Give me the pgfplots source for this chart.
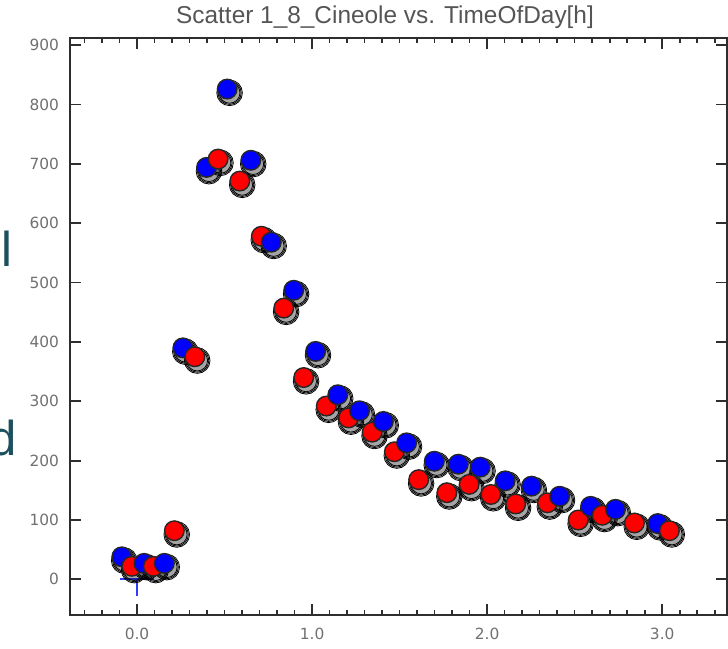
\documentclass[border=0pt]{standalone}
\usepackage{fontspec}
\setmainfont{Liberation Sans}
\newfontfamily\dejavu{DejaVu Sans}
\usepackage{pgfplots}
\pgfplotsset{compat=1.18}
\usepackage{pgfplotstable}
\definecolor{TitleGray}{HTML}{555555}
\definecolor{TickGray}{HTML}{707070}
\definecolor{AxisGray}{HTML}{2E2E2E}
\definecolor{Teal}{HTML}{1D4F5E}
\definecolor{PtBlue}{HTML}{0000FF}
\definecolor{PtRed}{HTML}{FF0000}
\definecolor{TBlue}{HTML}{2F3CFF}

% time [h], cineole, series (b = blue, r = red), in time order
\pgfplotstableread{
x y c
-0.087 38 b
-0.030 22 r
0.040 27 b
0.093 22 r
0.156 27 b
0.213 82 r
0.262 390 b
0.330 375 r
0.397 694 b
0.463 708 r
0.515 826 b
0.587 671 r
0.650 706 b
0.710 578 r
0.767 568 b
0.838 457 r
0.895 487 b
0.952 340 r
1.020 384 b
1.081 292 r
1.147 311 b
1.208 272 r
1.271 284 b
1.343 248 r
1.407 266 b
1.470 215 r
1.540 230 b
1.609 168 r
1.698 199 b
1.770 146 r
1.835 194 b
1.897 160 r
1.960 189 b
2.021 143 r
2.103 166 b
2.163 127 r
2.253 157 b
2.344 129 r
2.414 140 b
2.520 100 r
2.591 123 b
2.657 108 r
2.733 118 b
2.841 95 r
2.974 94 b
3.041 82 r
}\points

\begin{document}
\begin{tikzpicture}
\begin{axis}[
  at={(0,0)},anchor=south west,scale only axis,
  width=328.5pt,height=288.5pt,
  xmin=-0.383,xmax=3.37,ymin=-60,ymax=912,
  xtick={0,1,2,3},xticklabels={0.0,1.0,2.0,3.0},
  minor xtick={-0.3,-0.2,...,3.35},
  ytick={0,100,200,300,400,500,600,700,800,900},
  yticklabels={0,100,200,300,400,500,600,700,800,900},
  tick align=inside,major tick length=5.5pt,minor tick length=2.5pt,
  axis line style={AxisGray,line width=1pt},
  every tick/.append style={AxisGray,line width=0.9pt},
  every minor tick/.append style={AxisGray,line width=0.8pt},
  tick label style={font=\dejavu\fontsize{7.7}{8}\selectfont,text=TickGray,inner sep=0pt},
  yticklabel style={anchor=east,xshift=-5.3pt},
  xticklabel style={anchor=north,yshift=-6.5pt},
  clip=false]
% soft drop shadows
\addplot[only marks,mark=*,mark size=6.4pt,
  mark options={draw=none,fill=black,fill opacity=0.07,xshift=1.2pt,yshift=-1.9pt}]
  table[x=x,y=y]{\points};
\addplot[only marks,mark=*,mark size=5.8pt,
  mark options={draw=none,fill=black,fill opacity=0.13,xshift=1.2pt,yshift=-1.9pt}]
  table[x=x,y=y]{\points};
\addplot[only marks,mark=*,mark size=5.2pt,
  mark options={draw=none,fill=black,fill opacity=0.2,xshift=1.2pt,yshift=-1.9pt}]
  table[x=x,y=y]{\points};
% points
\addplot[scatter,only marks,mark=*,mark size=4.9pt,
  scatter src=explicit symbolic,
  scatter/classes={
    b={mark=*,fill=PtBlue,draw=black!85,line width=0.7pt},
    r={mark=*,fill=PtRed,draw=black!85,line width=0.7pt}}]
  table[x=x,y=y,meta=c]{\points};
% blue marker at the origin
\addplot[TBlue,line width=0.9pt] coordinates {(-0.098,0) (0.096,0)};
\addplot[TBlue,line width=0.9pt] coordinates {(0,0) (0,-28)};
\end{axis}
\node[anchor=base,font=\fontsize{12.2}{14}\selectfont,text=TitleGray]
  at (157.5pt,295.5pt) {Scatter 1\_8\_Cineole vs. TimeOfDay[h]};
\node[anchor=base,font=\fontsize{24.5}{26}\selectfont,text=Teal,inner sep=0pt]
  at (-31.75pt,174pt) {l};
\node[anchor=base east,font=\fontsize{24.5}{26}\selectfont,text=Teal,inner sep=0pt]
  at (-26.6pt,79.5pt) {d};
\pgfresetboundingbox
\path[use as bounding box] (-35pt,-16.5pt) rectangle (329pt,307.5pt);
\end{tikzpicture}
\end{document}
